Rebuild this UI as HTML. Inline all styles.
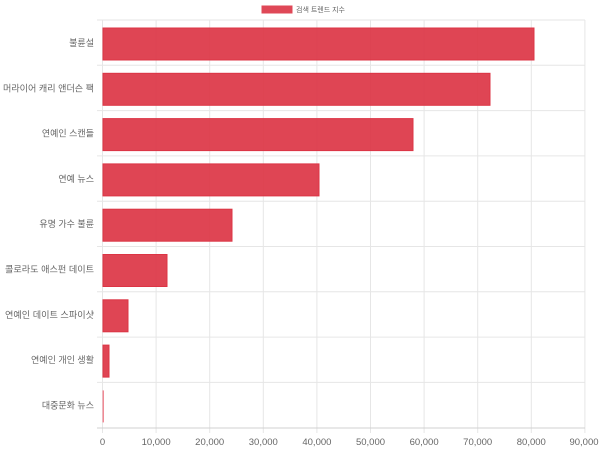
<!DOCTYPE html>
<html><head><meta charset="utf-8"><style>
body{margin:0;background:#fff;}
text{font-family:"Liberation Sans","Noto Sans CJK KR",sans-serif;fill:#666;}
</style></head><body>
<svg width="600" height="450" xmlns="http://www.w3.org/2000/svg">
<rect x="262" y="6" width="30" height="7" fill="#dc3545" opacity="0.9" stroke="#dc3545"/>
<text x="296" y="12" font-size="7">검색 트렌드 지수</text>
<g stroke="#e6e6e6" stroke-width="1">
<line x1="102.5" y1="20" x2="102.5" y2="433"/>
<line x1="156.1" y1="20" x2="156.1" y2="433"/>
<line x1="209.7" y1="20" x2="209.7" y2="433"/>
<line x1="263.3" y1="20" x2="263.3" y2="433"/>
<line x1="316.9" y1="20" x2="316.9" y2="433"/>
<line x1="370.5" y1="20" x2="370.5" y2="433"/>
<line x1="424.1" y1="20" x2="424.1" y2="433"/>
<line x1="477.7" y1="20" x2="477.7" y2="433"/>
<line x1="531.3" y1="20" x2="531.3" y2="433"/>
<line x1="584.9" y1="20" x2="584.9" y2="433"/>
<line x1="97" y1="20" x2="585" y2="20"/>
<line x1="97" y1="65.3" x2="585" y2="65.3"/>
<line x1="97" y1="110.6" x2="585" y2="110.6"/>
<line x1="97" y1="155.9" x2="585" y2="155.9"/>
<line x1="97" y1="201.2" x2="585" y2="201.2"/>
<line x1="97" y1="246.5" x2="585" y2="246.5"/>
<line x1="97" y1="291.8" x2="585" y2="291.8"/>
<line x1="97" y1="337.1" x2="585" y2="337.1"/>
<line x1="97" y1="382.4" x2="585" y2="382.4"/>
<line x1="97" y1="428" x2="585" y2="428" stroke="#d0d0d0"/>
</g>
<g fill="#dc3545" fill-opacity="0.92" stroke="#dc3545">
<rect x="103" y="28" width="431" height="32"/>
<rect x="103" y="73.3" width="387" height="32"/>
<rect x="103" y="118.6" width="310" height="32"/>
<rect x="103" y="163.9" width="216" height="32"/>
<rect x="103" y="209.2" width="129" height="32"/>
<rect x="103" y="254.5" width="64" height="32"/>
<rect x="103" y="299.8" width="25" height="32"/>
<rect x="103" y="345.1" width="6" height="32"/>
</g>
<rect x="102.5" y="390.4" width="1.5" height="32" fill="#f08a95"/>
<g font-size="9" text-anchor="end">
<text x="94" y="46">불륜설</text>
<text x="94" y="91.3" textLength="91" lengthAdjust="spacingAndGlyphs">머라이어 캐리 앤더슨 팩</text>
<text x="94" y="136.6">연예인 스캔들</text>
<text x="94" y="181.9">연예 뉴스</text>
<text x="94" y="227.2">유명 가수 불륜</text>
<text x="94" y="272.5" textLength="89" lengthAdjust="spacingAndGlyphs">콜로라도 애스펀 데이트</text>
<text x="94" y="317.8" textLength="89" lengthAdjust="spacingAndGlyphs">연예인 데이트 스파이샷</text>
<text x="94" y="363.1">연예인 개인 생활</text>
<text x="94" y="408.4">대중문화 뉴스</text>
</g>
<g font-size="9.5" text-anchor="middle" style="fill:#777">
<text x="102.5" y="445">0</text>
<text x="156.1" y="445">10,000</text>
<text x="209.7" y="445">20,000</text>
<text x="263.3" y="445">30,000</text>
<text x="316.9" y="445">40,000</text>
<text x="370.5" y="445">50,000</text>
<text x="424.1" y="445">60,000</text>
<text x="477.7" y="445">70,000</text>
<text x="531.3" y="445">80,000</text>
<text x="584" y="445">90,000</text>
</g>
</svg>
</body></html>
